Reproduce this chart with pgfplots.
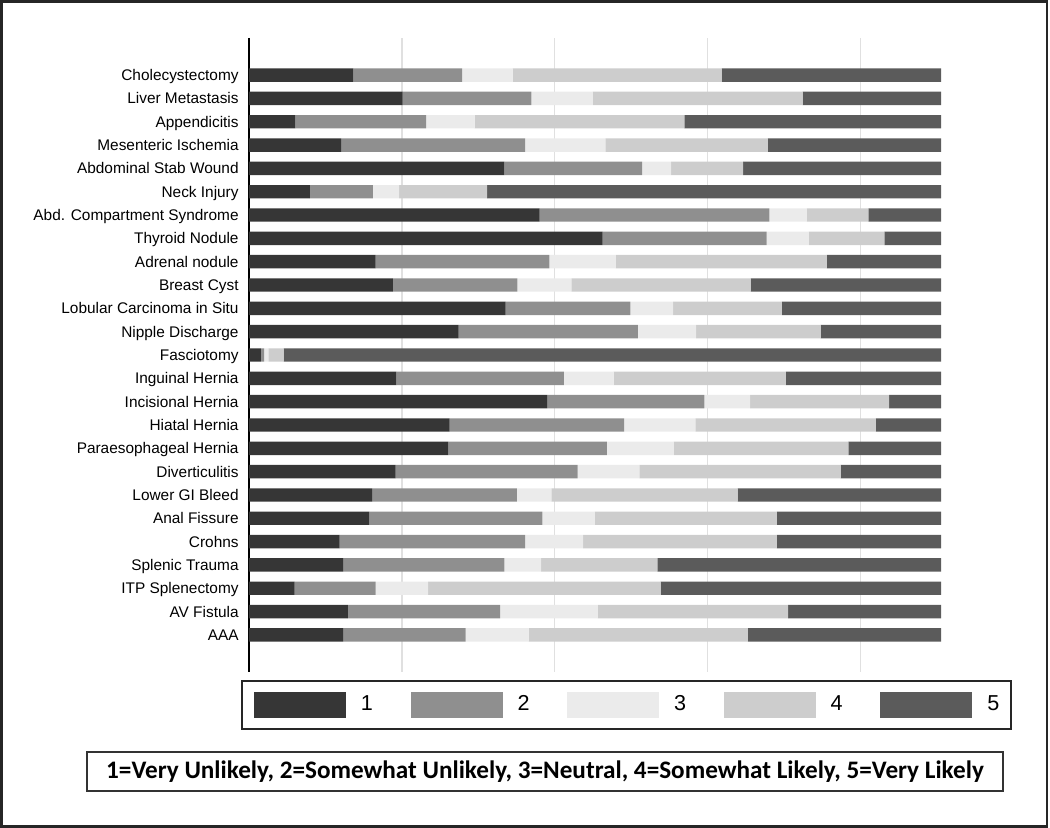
\documentclass[border=0pt]{standalone}
\usepackage{pgfplots}
\pgfplotsset{compat=1.18}
\usepackage{pgfplotstable}
\usepackage{fontspec}
\setmainfont{Liberation Sans}
\newfontfamily\carlito{Carlito}
\definecolor{cA}{HTML}{363636}
\definecolor{cB}{HTML}{8F8F8F}
\definecolor{cC}{HTML}{EBEBEB}
\definecolor{cD}{HTML}{CDCDCD}
\definecolor{cE}{HTML}{5B5B5B}
\pgfplotstableread{
idx a b c d e
0 15.1 15.7 7.3 30.2 31.7
1 22.2 18.6 8.9 30.3 20.0
2 6.7 18.9 7.0 30.3 37.1
3 13.3 26.6 11.6 23.5 25.0
4 36.9 19.9 4.2 10.4 28.6
5 8.8 9.1 3.8 12.7 65.6
6 42.0 33.2 5.4 8.9 10.5
7 51.1 23.7 6.1 10.9 8.2
8 18.3 25.1 9.6 30.5 16.5
9 20.8 18.0 7.8 25.9 27.5
10 37.1 18.0 6.2 15.7 23.0
11 30.3 25.9 8.4 18.0 17.4
12 1.7 0.5 0.6 2.2 95.0
13 21.3 24.2 7.2 24.9 22.4
14 43.1 22.7 6.6 20.1 7.5
15 29.0 25.2 10.3 26.1 9.4
16 28.8 22.9 9.7 25.2 13.4
17 21.2 26.3 8.9 29.1 14.5
18 17.8 20.9 5.0 26.9 29.4
19 17.4 25.0 7.6 26.3 23.7
20 13.1 26.8 8.4 28.0 23.7
21 13.6 23.3 5.3 16.8 41.0
22 6.6 11.7 7.6 33.6 40.5
23 14.3 22.0 14.1 27.5 22.1
24 13.6 17.7 9.1 31.7 27.9
}\data
\begin{document}
\begin{tikzpicture}[x=1pt,y=1pt]
\useasboundingbox (-124.5,-78) rectangle (400.5,336);
\draw[line width=1.2pt, black!85] (-123.75,-77.25) rectangle (399,335.25);
\begin{axis}[
  at={(0,0)}, anchor=south west, scale only axis,
  width=346pt, height=317pt,
  xbar stacked, bar width=6.7pt,
  xmin=0, xmax=100, ymin=-1.59, ymax=25.59, y dir=reverse,
  ytick={0,...,24},
  yticklabels={Cholecystectomy, Liver Metastasis, Appendicitis, Mesenteric Ischemia, Abdominal Stab Wound, Neck Injury, Abd. Compartment Syndrome, Thyroid Nodule, Adrenal nodule, Breast Cyst, Lobular Carcinoma in Situ, Nipple Discharge, Fasciotomy, Inguinal Hernia, Incisional Hernia, Hiatal Hernia, Paraesophageal Hernia, Diverticulitis, Lower GI Bleed, Anal Fissure, Crohns, Splenic Trauma, ITP Splenectomy, AV Fistula, AAA},
  yticklabel style={font=\fontsize{7.7}{9}\selectfont, inner sep=0pt, text height=5.5pt, text depth=0pt, anchor=east, xshift=-5pt},
  xtick={22.1,44.2,66.3,88.4}, xticklabels={},
  major tick length=0pt,
  xmajorgrids, grid style={black!12, line width=0.6pt},
  axis lines*=left, axis line style={-},
  x axis line style={draw=none},
  y axis line style={black, line width=1pt},
  legend columns=5,
  legend style={at={(0,0)}, anchor=north west, xshift=-4pt, yshift=-4pt,
    draw=black!85, line width=0.9pt, inner xsep=6pt, inner ysep=5.5pt,
    font=\fontsize{10.8}{12}\selectfont, nodes={inner sep=0pt},
    /tikz/every odd column/.append style={column sep=7.5pt},
    /tikz/every even column/.append style={column sep=18.8pt}},
  legend image code/.code={\fill[#1,draw=none] (0pt,-6.5pt) rectangle (46pt,6.5pt);},
]
\addplot[fill=cA, draw=none] table[x=a, y=idx] {\data};
\addlegendentry{1}
\addplot[fill=cB, draw=none] table[x=b, y=idx] {\data};
\addlegendentry{2}
\addplot[fill=cC, draw=none] table[x=c, y=idx] {\data};
\addlegendentry{3}
\addplot[fill=cD, draw=none] table[x=d, y=idx] {\data};
\addlegendentry{4}
\addplot[fill=cE, draw=none] table[x=e, y=idx] {\data};
\addlegendentry{5}
\end{axis}
\node[draw=black!80, line width=0.8pt, minimum width=458pt, minimum height=19.5pt, inner sep=0pt, font=\carlito\bfseries\fontsize{12.6}{14}\selectfont] at (148,-49.75) {1=Very Unlikely, 2=Somewhat Unlikely, 3=Neutral, 4=Somewhat Likely, 5=Very Likely};
\end{tikzpicture}
\end{document}
